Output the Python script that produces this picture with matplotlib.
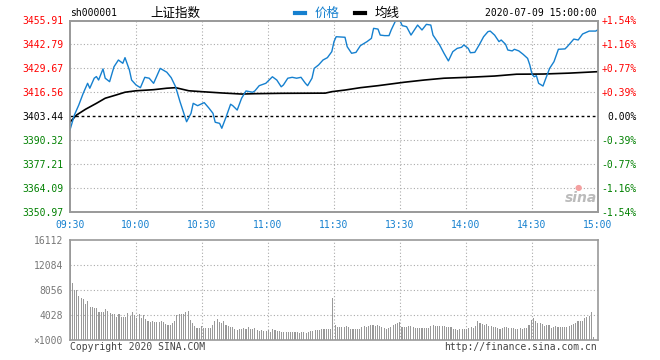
import numpy as np
import matplotlib
matplotlib.use('Agg')
import matplotlib.pyplot as plt
from matplotlib.lines import Line2D

# ---- data ----
prev_close = 3403.44
price_ticks = [3350.97, 3364.09, 3377.21, 3390.32, 3403.44, 3416.56, 3429.67, 3442.79, 3455.91]
pct_labels = ['-1.54%', '-1.16%', '-0.77%', '-0.39%', '0.00%', '+0.39%', '+0.77%', '+1.16%', '+1.54%']
time_labels = ['09:30', '10:00', '10:30', '11:00', '11:30', '13:30', '14:00', '14:30', '15:00']
vol_ticks = [0, 4028, 8056, 12084, 16112]
vol_labels = ['\u00d71000', '4028', '8056', '12084', '16112']

price_t = [0, 2, 4, 6, 8, 9, 11, 12, 13, 15, 16, 18, 20, 22, 24, 25, 27, 28, 30, 32, 34, 36, 38,
           41, 44, 46, 48, 50, 53, 55, 56, 58, 61, 63, 65, 66, 68, 69, 71, 73, 74, 76, 78, 80,
           83, 84, 86, 89, 92, 94, 96, 97, 99, 101, 103, 105, 107, 108, 110, 111, 113, 115, 117,
           119, 120, 121, 125, 126, 128, 130, 132, 135, 137, 138, 140, 141, 143, 145, 146, 148,
           150, 151, 153, 155, 158, 160, 162, 164, 165, 168, 170, 172, 174, 176, 178, 179, 181,
           182, 184, 186, 188, 190, 191, 193, 195, 196, 198, 199, 201, 202, 204, 206, 208, 209,
           210, 211, 212, 213, 215, 216, 218, 220, 222, 225, 226, 229, 231, 233, 236, 239, 240]
price_v = [3395.8, 3404.0, 3409.5, 3415.9, 3421.4, 3418.7, 3424.2, 3425.1, 3423.2, 3429.3,
           3424.2, 3422.3, 3430.5, 3434.2, 3432.4, 3435.5, 3428.7, 3423.2, 3420.5, 3419.0,
           3424.7, 3424.2, 3421.4, 3429.6, 3427.5, 3424.5, 3419.5, 3411.3, 3400.3, 3404.9,
           3410.4, 3409.1, 3410.8, 3408.0, 3404.9, 3400.0, 3399.4, 3396.7, 3403.1, 3409.9,
           3409.1, 3406.7, 3413.2, 3417.2, 3416.5, 3417.2, 3420.1, 3421.4, 3425.0, 3423.2,
           3419.5, 3420.5, 3424.2, 3424.7, 3424.2, 3424.7, 3421.4, 3420.1, 3424.2, 3429.6,
           3431.5, 3434.2, 3435.5, 3438.8, 3444.3, 3447.0, 3446.7, 3441.5, 3437.9, 3438.4,
           3442.1, 3444.3, 3446.1, 3451.6, 3451.2, 3447.9, 3447.6, 3447.6, 3450.7, 3455.8,
           3455.8, 3453.1, 3452.5, 3447.9, 3453.4, 3450.7, 3453.8, 3453.4, 3447.9, 3442.5,
           3437.9, 3433.7, 3438.8, 3440.6, 3441.2, 3442.5, 3440.6, 3438.2, 3438.4, 3442.5,
           3447.0, 3449.8, 3450.1, 3447.9, 3444.3, 3445.2, 3442.8, 3439.7, 3439.2, 3440.1,
           3439.2, 3437.3, 3435.1, 3431.5, 3426.4, 3425.0, 3425.6, 3421.4, 3419.9, 3423.2,
           3429.6, 3433.3, 3440.1, 3440.3, 3441.5, 3445.7, 3445.2, 3448.5, 3450.1, 3450.1, 3450.9]

avg_t = [0, 3, 7, 12, 16, 21, 25, 30, 38, 44, 48, 54, 60, 69, 78, 84, 96, 116, 119, 125,
         132, 140, 152, 161, 170, 181, 193, 203, 215, 227, 240]
avg_v = [3400.1, 3404.0, 3407.1, 3410.4, 3413.2, 3415.0, 3416.5, 3417.3, 3417.9, 3418.7,
         3419.0, 3417.3, 3416.8, 3416.1, 3415.5, 3415.7, 3415.9, 3416.0, 3416.8, 3417.7,
         3419.0, 3420.1, 3422.0, 3423.2, 3424.2, 3424.7, 3425.4, 3426.4, 3426.5, 3427.0, 3427.8]

volume = [30000,
          9230, 8056, 8056, 7090, 6715, 6600, 5800, 6335, 5370, 5370,
          5210, 5210, 4565, 4460, 4460, 5000, 4670, 4300, 4190, 4140,
          3760, 4140, 3760, 3760, 3760, 4300, 3920, 4460, 4030, 3600,
          4140, 3480, 4030, 3330, 3115, 2950, 3060, 2850, 2850, 2850,
          3010, 2850, 2525, 2420, 2420, 2690, 3060, 4030, 4190, 4190,
          4190, 4460, 4670, 3220, 2690, 2310, 1990, 1990, 2310, 1990,
          1990, 1990, 1990, 2420, 3060, 3380, 2950, 2690, 3060, 2420,
          2260, 2090, 2090, 1770, 1660, 1770, 1770,
          1880, 1770, 2040, 1770, 1770, 1880, 1610, 1500, 1610, 1500,
          1500, 1610, 1340, 1720, 1610, 1500, 1450, 1340, 1340, 1340,
          1340, 1340, 1340, 1340, 1340, 1180, 1340, 1340, 1180, 1340,
          1500, 1500, 1610, 1610, 1610, 1720, 1720, 1720, 1770,
          1770, 6815, 2420, 2150, 2150, 2040, 2150, 2255, 2150, 1720,
          1720, 1830, 1830, 1830, 2150, 2255, 2150, 2310, 2420, 2420,
          2310, 2420, 2310, 2040, 1880, 1830, 1880, 2150, 2420, 2525,
          2795, 2900, 2150, 2150, 2150, 2255, 2255, 2040, 1990, 1990,
          1990, 1990, 1990, 1880, 1990, 2255, 2420, 2255, 2255, 2255,
          2255, 2255, 2150, 2150, 2040, 1720, 1720, 1610, 1720, 1720,
          1830, 1830, 1990, 2150, 1880, 2255, 3000, 2690, 2525, 2420,
          2525, 2310, 2255, 2150, 2040, 1880, 1770, 1880, 2040, 2150,
          1990, 1880, 1990, 1770, 1830, 1990, 1770, 1880, 1990, 2420,
          3220, 3540, 3000, 2690, 2690, 2525, 2310, 2420, 2420, 1990,
          2040, 2255, 2150, 2040, 2040, 2150, 2150, 2310, 2420, 2525,
          2795, 3000, 3000, 3115, 3540, 3650, 3870, 4460, 430]

# ---- styling ----
BLUE = '#1580cf'
GRID = '#aaaaaa'
SPINE = '#999999'
MONO = 'DejaVu Sans Mono'
CJK = ['Noto Sans CJK SC', 'DejaVu Sans']
W, H = 660, 360

fig = plt.figure(figsize=(6.6, 3.6), dpi=100)
ax = fig.add_axes([70 / W, 1 - 211.5 / H, 528 / W, 191 / H])
axv = fig.add_axes([70 / W, 1 - 340 / H, 528 / W, 100 / H])

minutes = np.arange(0, 241, 30)

# ---- price panel ----
ax.set_xlim(0, 240)
ax.set_ylim(price_ticks[0], price_ticks[-1])
for v in price_ticks[1:-1]:
    if v == prev_close:
        ax.axhline(v, color='black', lw=1, ls=(0, (2, 2)), zorder=2)
    else:
        ax.axhline(v, color=GRID, lw=0.8, ls=(0, (1, 2)), zorder=1)
for m in minutes[1:-1]:
    ax.axvline(m, color=GRID, lw=0.8, ls=(0, (1, 2)), zorder=1)

ax.plot(avg_t, avg_v, color='black', lw=1.2, zorder=3)
ax.plot(price_t, price_v, color=BLUE, lw=1.0, zorder=4)

def lvl_color(v):
    if v > prev_close:
        return 'red'
    if v < prev_close:
        return 'green'
    return 'black'

ax.set_yticks(price_ticks)
ax.set_yticklabels([f'{v:.2f}' for v in price_ticks], fontfamily=MONO, fontsize=7)
for lab, v in zip(ax.get_yticklabels(), price_ticks):
    lab.set_color(lvl_color(v))
ax.set_xticks(minutes)
ax.set_xticklabels(time_labels, fontfamily=MONO, fontsize=7, color=BLUE)
ax.tick_params(axis='both', length=0)
ax.tick_params(axis='y', pad=5)
ax.tick_params(axis='x', pad=6)

axr = ax.twinx()
axr.set_ylim(ax.get_ylim())
axr.set_yticks(price_ticks)
axr.set_yticklabels(pct_labels, fontfamily=MONO, fontsize=7, ha='right')
for lab, v in zip(axr.get_yticklabels(), price_ticks):
    lab.set_color(lvl_color(v))
axr.tick_params(axis='y', length=0, pad=28)

for a in (ax, axr):
    for s in a.spines.values():
        s.set_color(SPINE)
        s.set_linewidth(1.2)

# ---- volume panel ----
vx = np.linspace(0, 238, len(volume))
axv.bar(vx, volume, width=0.5, color='#999999', antialiased=False, zorder=2)
axv.set_xlim(0, 240)
axv.set_ylim(0, vol_ticks[-1])
for v in vol_ticks[1:-1]:
    axv.axhline(v, color=GRID, lw=0.8, ls=(0, (1, 2)), zorder=1)
for m in minutes[1:-1]:
    axv.axvline(m, color=GRID, lw=0.8, ls=(0, (1, 2)), zorder=1)
axv.set_yticks(vol_ticks)
axv.set_yticklabels(vol_labels, fontfamily=MONO, fontsize=7, color='#777777')
axv.set_xticks([])
axv.tick_params(axis='y', length=0, pad=5)
for s in axv.spines.values():
    s.set_color(SPINE)
    s.set_linewidth(1.2)

# ---- header ----
fig.text(70 / W, 1 - 13 / H, 'sh000001', fontfamily=MONO, fontsize=7, va='center')
fig.text(150 / W, 1 - 13 / H, '上证指数', family=CJK, fontsize=9, va='center')
fig.add_artist(Line2D([295 / W, 305 / W], [1 - 13 / H] * 2, color=BLUE, lw=3))
fig.text(315 / W, 1 - 13 / H, '价格', family=CJK, fontsize=9, color=BLUE, va='center')
fig.add_artist(Line2D([355 / W, 365 / W], [1 - 13 / H] * 2, color='black', lw=3))
fig.text(375 / W, 1 - 13 / H, '均线', family=CJK, fontsize=9, va='center')
fig.text(597 / W, 1 - 13 / H, '2020-07-09 15:00:00', fontfamily=MONO, fontsize=7,
         ha='right', va='center')

# ---- footer / watermark ----
fig.text(70 / W, 1 - 347 / H, 'Copyright 2020 SINA.COM', fontfamily=MONO, fontsize=7,
         color='#444444', va='center')
fig.text(597 / W, 1 - 347 / H, 'http://finance.sina.com.cn', fontfamily=MONO, fontsize=7,
         color='#444444', va='center', ha='right')
fig.text(597 / W, 1 - 198 / H, 'sina', fontsize=10, fontweight='bold', style='italic',
         color='#bbbbbb', ha='right', va='center')
fig.text(578 / W, 1 - 187 / H, '\u25cf', fontsize=6, color='#f4a0a0', ha='center', va='center')

fig.savefig('out.png', dpi=100)
